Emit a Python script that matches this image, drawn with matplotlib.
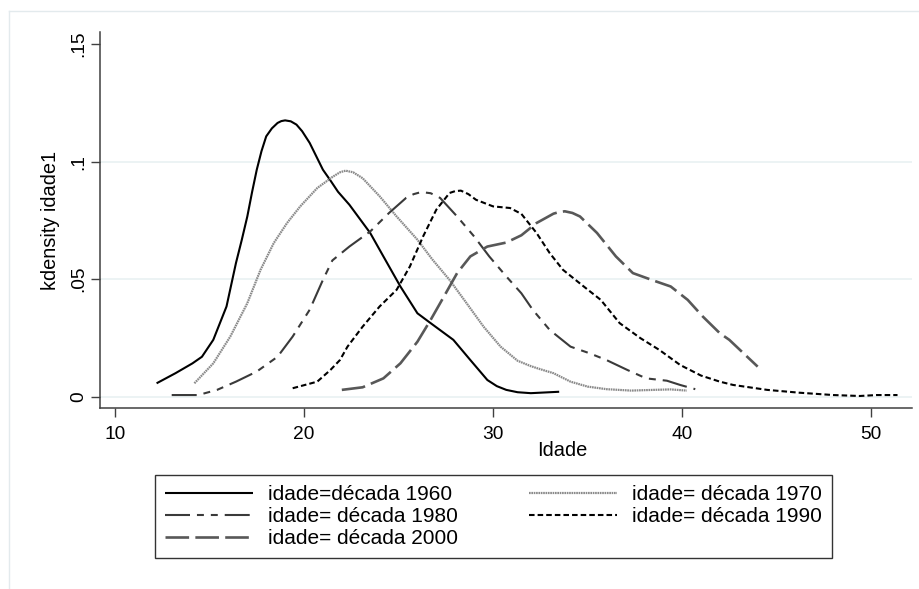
import matplotlib
matplotlib.use("Agg")
import matplotlib.pyplot as plt
from matplotlib.lines import Line2D
from matplotlib.ticker import FixedLocator, FixedFormatter

plt.rcParams["font.family"] = ["Liberation Sans", "DejaVu Sans"]
plt.rcParams["lines.scale_dashes"] = False

# Kernel density estimates of age, one curve per decade
x1960 = [12.2, 13.2, 14.1, 14.6, 15.2, 15.9, 16.4, 16.7, 17.0, 17.25, 17.5, 17.75, 18.0,
         18.3, 18.6, 18.8, 19.0, 19.3, 19.6, 19.9, 20.3, 21.0, 21.4, 21.8, 22.4, 23.5,
         24.2, 25.1, 26.0, 26.7, 27.9, 28.8, 29.7, 30.2, 30.7, 31.3, 32.0, 33.5]
y1960 = [.0057, .0100, .0142, .0170, .0242, .0384, .0569, .0665, .0767, .0870, .0966,
         .1045, .1108, .1142, .1165, .1173, .1176, .1172, .1158, .1130, .1080, .0966,
         .0920, .0872, .0817, .0697, .0597, .0469, .0355, .0313, .0242, .0156, .0071,
         .0045, .0029, .0019, .0015, .0021]

x1970 = [14.2, 15.2, 16.1, 17.0, 17.7, 18.4, 19.1, 19.8, 20.7, 21.5, 21.9, 22.2, 22.6,
         23.1, 24.0, 24.9, 26.0, 26.8, 27.7, 28.6, 29.5, 30.4, 31.3, 32.0, 32.5, 33.2,
         34.1, 35.0, 36.0, 37.3, 38.5, 39.4, 40.25]
y1970 = [.0057, .0142, .0256, .0398, .0540, .0654, .0739, .0810, .0888, .0935, .0955,
         .0962, .0955, .0930, .0853, .0767, .0668, .0583, .0497, .0398, .0298, .0213,
         .0153, .0130, .0117, .0100, .0064, .0043, .0032, .0026, .0029, .0031, .0026]

x1980 = [13.0, 14.4, 15.4, 16.4, 17.5, 18.6, 19.4, 20.3, 21.0, 21.5, 22.4, 23.5, 24.5,
         25.4, 25.8, 26.2, 26.7, 27.2, 28.1, 29.0, 29.8, 30.7, 31.5, 32.1, 33.0, 34.1,
         35.1, 36.0, 37.1, 38.1, 39.2, 39.9, 40.7]
y1980 = [.0007, .0007, .0029, .0064, .0107, .0170, .0256, .0370, .0497, .0580, .0639,
         .0703, .0782, .0846, .0862, .0871, .0866, .0846, .0767, .0682, .0597, .0512,
         .0440, .0370, .0284, .0213, .0185, .0156, .0114, .0078, .0068, .0050, .0032]

x1990 = [19.4, 20.7, 21.4, 21.9, 22.3, 23.1, 24.0, 24.9, 25.6, 26.3, 27.0, 27.7, 28.0,
         28.3, 28.7, 29.1, 30.0, 30.9, 31.5, 32.3, 33.0, 33.7, 34.8, 35.7, 36.7, 37.8,
         38.8, 39.9, 41.0, 42.0, 42.7, 44.5, 46.2, 48.0, 49.4, 50.3, 51.4]
y1990 = [.0036, .0064, .0114, .0156, .0213, .0298, .0384, .0455, .0554, .0682, .0796,
         .0867, .0875, .0877, .0862, .0838, .0810, .0803, .0778, .0697, .0611, .0540,
         .0469, .0412, .0313, .0249, .0199, .0135, .0090, .0064, .0050, .0029, .0017,
         .0007, .0003, .0007, .0007]

x2000 = [22.0, 23.1, 24.2, 25.1, 26.0, 26.7, 27.4, 28.1, 28.8, 29.7, 30.7, 31.5, 32.3,
         33.2, 33.5, 33.8, 34.2, 34.6, 35.5, 36.5, 37.4, 38.5, 39.4, 40.3, 41.1, 42.0,
         42.5, 44.0]
y2000 = [.0029, .0040, .0078, .0142, .0234, .0327, .0426, .0526, .0597, .0639, .0656,
         .0687, .0739, .0779, .0786, .0789, .0782, .0767, .0697, .0597, .0526, .0494,
         .0469, .0412, .0341, .0270, .0242, .0128]

labels = ["idade=década 1960", "idade= década 1970", "idade= década 1980",
          "idade= década 1990", "idade= década 2000"]
xticks = [10, 20, 30, 40, 50]
yticks = [0, 0.05, 0.1, 0.15]
yticklabels = ["0", ".05", ".1", ".15"]

W, H = 920, 589
fig = plt.figure(figsize=(W / 100, H / 100), dpi=100)
fig.patch.set_facecolor("white")

# outer graph-region frame
frame_c = "#E3EAED"
fig.add_artist(Line2D([9 / W, 9 / W], [0, 1 - 11 / H], transform=fig.transFigure,
                      color=frame_c, lw=1.0))
fig.add_artist(Line2D([9 / W, 1], [1 - 11 / H, 1 - 11 / H], transform=fig.transFigure,
                      color=frame_c, lw=1.0))

left, right, top, bottom = 100.5, 911.7, 32.5, 408.3
ax = fig.add_axes([left / W, 1 - bottom / H, (right - left) / W, (bottom - top) / H])
ax.set_xlim(9.233, 52.15)
ax.set_ylim(-0.00494, 0.155)

for g in [0, 0.05, 0.1]:
    ax.axhline(g, color="#EAF2F3", lw=1.3, zorder=0)

series = [
    (x1960, y1960, dict(color="#000000", lw=1.5, ls="-")),
    (x1970, y1970, dict(color="#8a8a8a", lw=1.6, ls=(0, (1.2, 0.5)))),
    (x1980, y1980, dict(color="#3a3a3a", lw=1.5, ls=(0, (18, 5, 5, 5, 5, 5)))),
    (x1990, y1990, dict(color="#000000", lw=1.5, ls=(0, (4, 2.2)))),
    (x2000, y2000, dict(color="#585858", lw=1.9, ls=(0, (17, 4.5)))),
]
handles = []
for (xs, ys, st), lab in zip(series, labels):
    h, = ax.plot(xs, ys, label=lab, solid_capstyle="butt", dash_capstyle="butt",
                 solid_joinstyle="round", dash_joinstyle="round", **st)
    handles.append(h)

for s in ["top", "right"]:
    ax.spines[s].set_visible(False)
for s in ["left", "bottom"]:
    ax.spines[s].set_color("#404040")
    ax.spines[s].set_linewidth(1.1)

ax.xaxis.set_major_locator(FixedLocator(xticks))
ax.set_xticklabels([str(v) for v in xticks])
ax.yaxis.set_major_locator(FixedLocator(yticks))
ax.yaxis.set_major_formatter(FixedFormatter(yticklabels))
ax.tick_params(axis="both", direction="out", length=6.5, width=1.0, color="#404040",
               labelsize=13.8, labelcolor="black")
ax.tick_params(axis="x", pad=6.5)
ax.tick_params(axis="y", pad=3)
for t in ax.get_yticklabels():
    t.set_rotation(90)
    t.set_va("center")

ax.set_xlabel("Idade", fontsize=14.4)
ax.xaxis.set_label_coords((562 - left) / (right - left), -(450 - bottom) / (bottom - top))
ax.xaxis.label.set_va("center")
ax.set_ylabel("kdensity idade1", fontsize=14.4)
ax.yaxis.set_label_coords(-(left - 51) / (right - left), 0.5)
ax.yaxis.label.set_va("center")

order = [0, 2, 4, 1, 3]
leg = fig.legend([handles[i] for i in order], [labels[i] for i in order],
                 loc="upper left", bbox_to_anchor=(155 / W, 1 - 475 / H),
                 bbox_transform=fig.transFigure, borderaxespad=0, ncol=2,
                 fontsize=15, borderpad=0.48, handlelength=4.23, handletextpad=0.72,
                 columnspacing=3.4, labelspacing=0.15, fancybox=False,
                 frameon=True, framealpha=1)
leg.get_frame().set_edgecolor("#333333")
leg.get_frame().set_linewidth(1.0)

fig.savefig("out.png", dpi=100, facecolor="white")
